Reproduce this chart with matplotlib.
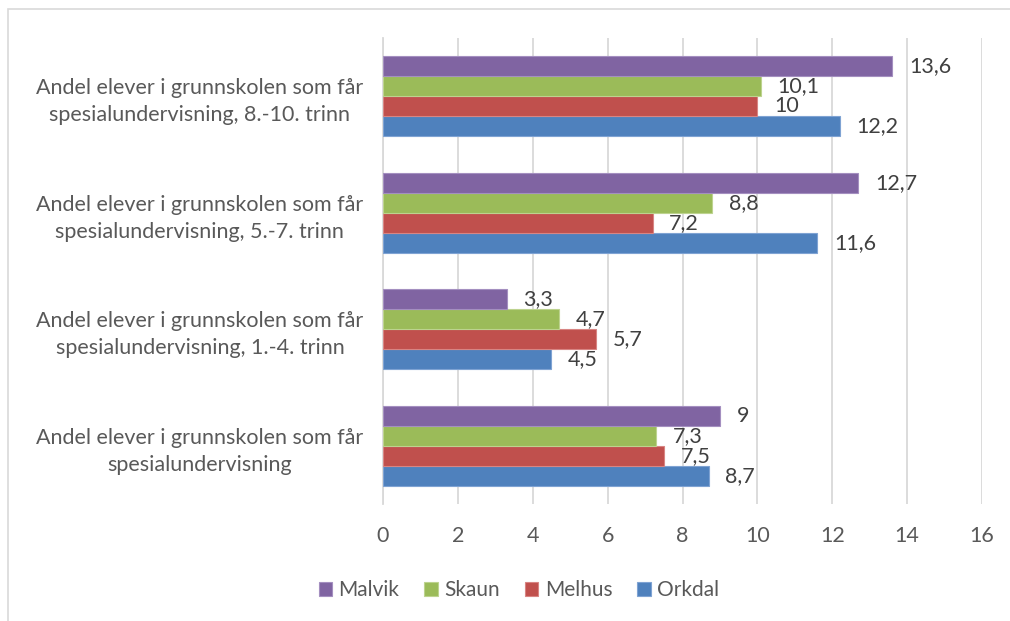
import matplotlib
matplotlib.use("Agg")
import matplotlib.pyplot as plt
import numpy as np
from matplotlib.patches import Rectangle

categories = [
    "Andel elever i grunnskolen som får\nspesialundervisning",
    "Andel elever i grunnskolen som får\nspesialundervisning, 1.-4. trinn",
    "Andel elever i grunnskolen som får\nspesialundervisning, 5.-7. trinn",
    "Andel elever i grunnskolen som får\nspesialundervisning, 8.-10. trinn",
]
series = ["Orkdal", "Melhus", "Skaun", "Malvik"]
orkdal = [8.7, 4.5, 11.6, 12.2]
melhus = [7.5, 5.7, 7.2, 10]
skaun = [7.3, 4.7, 8.8, 10.1]
malvik = [9, 3.3, 12.7, 13.6]
values = [orkdal, melhus, skaun, malvik]
colors = ["#4F81BD", "#C0504D", "#9BBB59", "#8064A2"]
edge_colors = ["#7FA3D3", "#D88583", "#BDD38F", "#A48FC0"]
xticks = [0, 2, 4, 6, 8, 10, 12, 14, 16]

plt.rcParams['font.family'] = ['Lato', 'DejaVu Sans']

fig = plt.figure(figsize=(10.10, 6.21), dpi=100)
ax = fig.add_axes([383/1010, 1-504/621, (982-383)/1010, (504-38)/621])

# chart border (top and left visible)
fig.patches.append(Rectangle((8/1010, -0.1), 1.2, 1-9/621+0.1, transform=fig.transFigure,
                             fill=False, edgecolor="#D9D9D9", linewidth=1.2))

h = 20/116.5
y = np.arange(len(categories))
for i, (vals, c, ec, name) in enumerate(zip(values, colors, edge_colors, series)):
    pos = y + (i - 1.5) * h
    ax.barh(pos, vals, height=h, color=c, edgecolor=ec, linewidth=0.8, label=name, zorder=3)
    for p, v in zip(pos, vals):
        txt = f"{v:g}".replace(".", ",")
        ax.annotate(txt, (v, p), xytext=(12, 0), textcoords="offset points",
                    ha="left", va="center", fontsize=15.5, color="#404040")

ax.set_xlim(0, 16)
ax.set_ylim(-0.5, 3.5)
ax.set_xticks(xticks)
ax.set_xticklabels([str(t) for t in xticks], fontsize=15.5, color="#595959")
ax.set_yticks(y)
ax.set_yticklabels(categories, fontsize=15.5, color="#595959", multialignment="center",
                   linespacing=1.45)
ax.tick_params(axis="both", length=0)
ax.tick_params(axis="x", pad=16)
ax.tick_params(axis="y", pad=14)
ax.grid(axis="x", color="#D9D9D9", linewidth=1.3, zorder=0)
for s in ["top", "right", "bottom"]:
    ax.spines[s].set_visible(False)
ax.spines["left"].set_color("#D9D9D9")
ax.spines["left"].set_linewidth(1.3)

handles, labels = ax.get_legend_handles_labels()
leg = fig.legend(handles[::-1], labels[::-1], loc="center", bbox_to_anchor=(519/1010, 1-590/621),
                 ncol=4, frameon=False, fontsize=15, handlelength=0.65, handleheight=0.65,
                 handletextpad=0.3, columnspacing=1.2, labelcolor="#595959")

fig.savefig("out.png", dpi=100)
